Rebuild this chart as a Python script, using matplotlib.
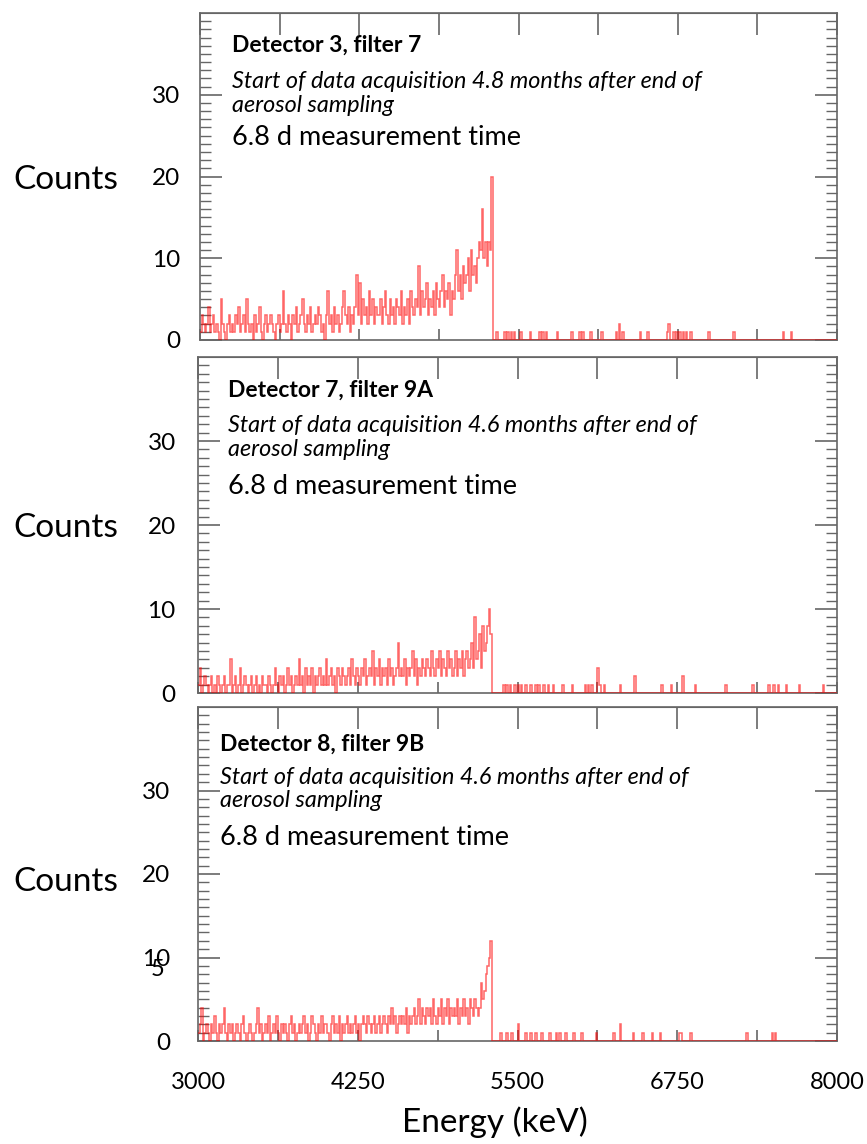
import matplotlib
matplotlib.use("Agg")
import matplotlib.pyplot as plt
import numpy as np

plt.rcParams['font.family'] = ['Lato', 'DejaVu Sans']

# channel grid (keV), 12.5 keV wide bins from 3000 to 8000
bin_width = 12.5
edges = np.arange(3000, 8000 + bin_width, bin_width)

# counts per bin (16 bins = 200 keV per row)
counts_det3 = [
    1, 3, 2, 1, 2, 4, 1, 2, 3, 1, 2, 1, 0, 5, 2, 1,
    0, 2, 3, 1, 2, 1, 3, 2, 4, 1, 2, 3, 1, 5, 2, 1,
    2, 0, 3, 1, 2, 4, 1, 0, 2, 3, 1, 2, 3, 2, 1, 0,
    2, 3, 1, 2, 6, 2, 1, 3, 2, 0, 3, 2, 4, 1, 2, 3,
    5, 2, 1, 3, 2, 4, 1, 2, 3, 2, 4, 3, 1, 2, 0, 3,
    6, 2, 3, 1, 4, 2, 3, 1, 2, 4, 6, 3, 2, 4, 1, 3,
    2, 4, 8, 3, 7, 2, 5, 3, 4, 2, 6, 3, 5, 2, 4, 3,
    3, 5, 2, 4, 6, 3, 2, 5, 3, 4, 2, 5, 4, 3, 6, 2,
    4, 3, 5, 2, 6, 4, 3, 5, 4, 9, 3, 6, 4, 5, 7, 3,
    5, 4, 6, 3, 7, 5, 4, 6, 8, 4, 6, 5, 7, 3, 6, 5,
    8, 11, 6, 8, 5, 9, 7, 8, 10, 6, 11, 8, 9, 7, 10, 12,
    11, 16, 10, 12, 9, 12, 11, 20,
    0, 0, 1, 0, 0, 0, 0, 1, 0, 1, 0, 1, 0, 1, 0, 0,
    0, 1, 0, 0, 0, 0, 0, 1, 0, 0, 0, 0, 0, 1, 0, 1,
    0, 1, 0, 0, 0, 0, 0, 0, 1, 0, 0, 0, 0, 0, 0, 0,
    0, 1, 0, 0, 0, 0, 1, 0, 1, 0, 0, 0, 0, 1, 0, 0,
    0, 0, 0, 0, 1, 0, 0, 0, 0, 0, 0, 0, 0, 1, 0, 2,
    0, 1, 0, 0, 0, 0, 0, 0, 0, 0, 0, 0, 1, 0, 0, 0,
    0, 1, 0, 0, 0, 0, 0, 0, 0, 0, 0, 0, 0, 1, 2, 0,
    0, 1, 0, 1, 0, 1, 0, 1, 0, 1, 0, 0, 1, 0, 0, 0,
    0, 0, 0, 0, 0, 0, 0, 1, 0, 0, 0, 0, 0, 0, 0, 0,
    0, 0, 0, 0, 0, 0, 0, 1, 0, 0, 0, 0, 0, 0, 0, 0,
    0, 0, 0, 0, 0, 0, 0, 0, 0, 0, 0, 0, 0, 0, 0, 0,
    0, 0, 0, 0, 0, 0, 1, 0, 0, 0, 0, 1, 0, 0, 0, 0,
    0, 0, 0, 0, 0, 0, 0, 0, 0, 0, 0, 0, 0, 0, 0, 0,
    0, 0, 0, 0, 0, 0, 0, 0,
]

counts_det7 = [
    1, 3, 0, 1, 2, 1, 0, 1, 2, 0, 1, 0, 2, 1, 0, 1,
    2, 0, 1, 1, 4, 0, 1, 2, 0, 1, 3, 0, 1, 2, 1, 0,
    1, 2, 0, 1, 2, 0, 1, 0, 2, 1, 1, 0, 2, 1, 0, 1,
    3, 1, 0, 2, 1, 2, 0, 1, 3, 1, 2, 0, 1, 2, 1, 4,
    1, 2, 0, 3, 1, 2, 1, 3, 0, 2, 1, 2, 3, 1, 2, 1,
    4, 1, 2, 3, 1, 2, 0, 3, 2, 1, 3, 2, 1, 2, 3, 1,
    4, 2, 1, 3, 2, 1, 3, 2, 4, 1, 2, 3, 2, 5, 1, 3,
    2, 4, 1, 3, 2, 3, 1, 4, 2, 3, 1, 2, 3, 6, 2, 3,
    2, 4, 1, 3, 2, 3, 5, 2, 4, 1, 3, 2, 4, 3, 2, 4,
    3, 2, 5, 3, 2, 4, 3, 5, 2, 4, 3, 2, 5, 3, 4, 2,
    3, 5, 2, 4, 3, 5, 2, 4, 5, 3, 4, 6, 3, 9, 4, 5,
    7, 3, 8, 5, 6, 8, 10, 7,
    0, 0, 0, 0, 0, 0, 0, 1, 0, 1, 0, 1, 0, 0, 1, 0,
    1, 0, 1, 0, 0, 1, 0, 0, 1, 0, 0, 1, 0, 1, 0, 0,
    1, 0, 0, 1, 0, 0, 1, 0, 0, 0, 0, 0, 1, 0, 0, 0,
    0, 0, 1, 0, 0, 0, 0, 0, 0, 0, 1, 0, 1, 0, 1, 0,
    0, 0, 3, 1, 0, 0, 1, 0, 0, 0, 0, 0, 0, 0, 0, 0,
    1, 0, 0, 0, 0, 0, 0, 0, 0, 2, 0, 0, 0, 0, 0, 0,
    0, 0, 0, 0, 0, 0, 0, 0, 0, 0, 1, 0, 0, 0, 0, 0,
    1, 0, 0, 0, 0, 0, 0, 2, 0, 0, 0, 0, 0, 0, 0, 1,
    0, 0, 0, 0, 0, 0, 0, 0, 0, 0, 0, 0, 0, 0, 0, 0,
    0, 0, 1, 0, 0, 0, 0, 0, 0, 0, 0, 0, 0, 0, 0, 0,
    0, 0, 0, 1, 0, 0, 0, 0, 0, 0, 0, 0, 0, 1, 0, 0,
    1, 0, 0, 1, 0, 0, 0, 0, 1, 0, 0, 0, 0, 0, 0, 0,
    1, 0, 0, 0, 0, 0, 0, 0, 0, 0, 0, 0, 0, 0, 0, 1,
    0, 0, 0, 0, 0, 0, 0, 0,
]

counts_det8 = [
    1, 2, 4, 0, 1, 2, 1, 0, 2, 1, 3, 1, 0, 2, 1, 2,
    4, 1, 0, 2, 1, 2, 0, 1, 2, 1, 0, 2, 3, 1, 0, 1,
    2, 1, 0, 1, 2, 4, 1, 2, 0, 1, 2, 1, 3, 0, 1, 2,
    1, 3, 1, 0, 2, 1, 2, 1, 0, 2, 3, 1, 2, 0, 1, 2,
    1, 2, 3, 1, 2, 0, 1, 3, 2, 1, 0, 2, 1, 3, 1, 2,
    2, 1, 0, 2, 3, 1, 2, 1, 3, 0, 2, 1, 2, 3, 1, 2,
    1, 2, 3, 1, 2, 0, 2, 3, 2, 1, 3, 2, 1, 2, 3, 1,
    2, 3, 1, 2, 3, 2, 1, 3, 2, 4, 2, 3, 1, 2, 3, 2,
    3, 2, 4, 1, 3, 2, 3, 4, 2, 3, 5, 2, 4, 3, 2, 4,
    3, 4, 2, 5, 3, 2, 4, 3, 5, 2, 4, 3, 5, 2, 4, 3,
    4, 3, 5, 2, 4, 3, 5, 3, 4, 2, 5, 4, 3, 5, 4, 3,
    4, 7, 5, 6, 8, 9, 10, 12,
    0, 0, 0, 0, 0, 1, 0, 0, 0, 1, 0, 0, 1, 0, 0, 0,
    2, 0, 0, 0, 0, 1, 0, 0, 1, 0, 0, 1, 0, 0, 0, 1,
    0, 0, 0, 0, 1, 0, 0, 0, 1, 0, 1, 0, 0, 0, 1, 0,
    0, 0, 0, 1, 0, 0, 0, 0, 1, 0, 0, 0, 0, 0, 0, 0,
    0, 1, 0, 0, 0, 0, 0, 0, 0, 0, 0, 0, 1, 0, 0, 0,
    2, 0, 0, 0, 0, 0, 0, 0, 1, 0, 0, 0, 0, 0, 1, 0,
    0, 0, 0, 0, 1, 0, 0, 0, 0, 1, 0, 0, 0, 0, 0, 0,
    0, 0, 0, 0, 0, 1, 1, 0, 0, 0, 0, 0, 1, 0, 0, 0,
    0, 0, 0, 0, 0, 0, 0, 0, 0, 0, 0, 0, 0, 0, 0, 0,
    0, 0, 0, 0, 0, 0, 0, 0, 0, 0, 0, 0, 0, 0, 0, 1,
    0, 0, 0, 0, 0, 0, 0, 0, 0, 0, 0, 0, 0, 0, 0, 1,
    0, 1, 0, 0, 0, 0, 0, 0, 0, 0, 0, 0, 0, 0, 0, 0,
    0, 0, 0, 0, 0, 0, 0, 0, 0, 0, 0, 0, 0, 0, 0, 0,
    0, 0, 0, 0, 0, 0, 0, 0,
]

titles = ["Detector 3, filter 7", "Detector 7, filter 9A", "Detector 8, filter 9B"]
subtitles = [
    "Start of data acquisition 4.8 months after end of\naerosol sampling",
    "Start of data acquisition 4.6 months after end of\naerosol sampling",
    "Start of data acquisition 4.6 months after end of\naerosol sampling",
]
meas_text = "6.8 d measurement time"
x_ticks = [3000, 3625, 4250, 4875, 5500, 6125, 6750, 7375, 8000]
x_labels = ["3000", "", "4250", "", "5500", "", "6750", "", "8000"]
y_ticks = [0, 10, 20, 30]

W, H = 867, 1144
# panel boxes in pixels: left, right, top, bottom
boxes = [(200, 837, 13, 340), (198, 837, 357, 693), (198, 837, 707, 1041)]
text_x = [3250, 3235, 3175]
text_y = [(36.1, 30.15, 24.8), (36.0, 30.4, 24.6), (35.6, 30.2, 24.4)]
ylab_pad = [14, 16, 20]
counts_y = [180, 528, 882]
spine_col = "#666666"


def plot_panel(fig, i, counts, last):
    l, r, t, b = boxes[i]
    ax = fig.add_axes([l / W, 1 - b / H, (r - l) / W, (b - t) / H])
    ax.stairs(counts, edges, color="red", lw=1.1, alpha=0.6, baseline=None, zorder=3)
    ax.set_xlim(3000, 8000)
    ax.set_ylim(0, 40)
    for s in ax.spines.values():
        s.set_color(spine_col)
        s.set_linewidth(1.2)
    ax.set_yticks(y_ticks)
    ax.set_yticks(np.arange(0, 40, 1), minor=True)
    ax.tick_params(axis="y", which="major", direction="in", length=16, width=1.2,
                   color=spine_col, left=True, right=True, labelsize=17.5, pad=ylab_pad[i])
    ax.tick_params(axis="y", which="minor", direction="in", length=8, width=1,
                   color=spine_col, left=True, right=True)
    ax.set_xticks(x_ticks)
    ax.tick_params(axis="x", which="major", direction="in", length=8, width=1.2,
                   color=spine_col, top=False, bottom=True, labelsize=17, pad=22)
    if last:
        ax.set_xticklabels(x_labels)
    else:
        ax.set_xticklabels([])
    top = ax.secondary_xaxis("top")
    top.set_xticks(x_ticks)
    top.tick_params(direction="in", length=16, width=1.2, color=spine_col, labeltop=False)
    top.spines["top"].set_color(spine_col)

    tx = text_x[i]
    ty = text_y[i]
    ax.text(tx, ty[0], titles[i], fontsize=16.5, fontweight="bold", va="center")
    ax.text(tx, ty[1], subtitles[i], fontsize=16.8, style="italic", va="center", linespacing=1.15)
    ax.text(tx, ty[2], meas_text, fontsize=19.5, va="center")
    fig.text(66 / W, 1 - counts_y[i] / H, "Counts", fontsize=24, ha="center", va="center")
    return ax


fig = plt.figure(figsize=(W / 100, H / 100), dpi=100)
all_counts = [counts_det3, counts_det7, counts_det8]
for i in range(3):
    plot_panel(fig, i, all_counts[i], i == 2)

fig.text(495 / W, 1 - 1122 / H, "Energy (keV)", fontsize=24, ha="center", va="center")
# stray tick label overlapping "10" on the bottom panel
fig.text(158 / W, 1 - 970 / H, "5", fontsize=17, ha="center", va="center")

plt.savefig("out.png", dpi=100)
